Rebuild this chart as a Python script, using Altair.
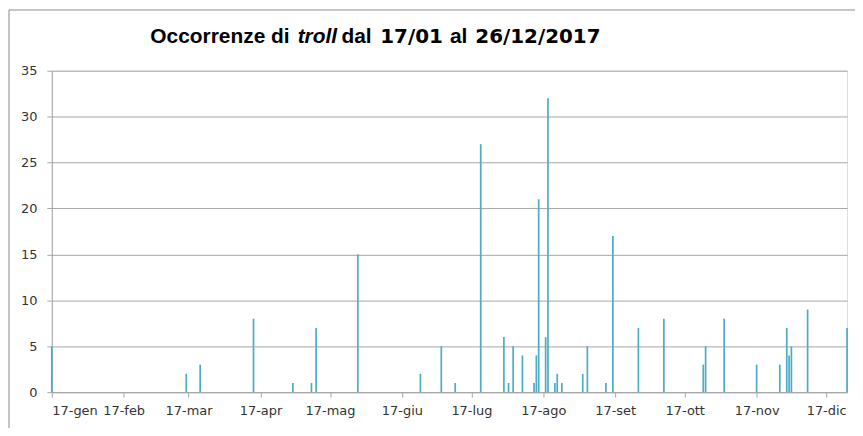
import altair as alt
import pandas as pd

# --- data ---
dates = ["2017-01-17", "2017-03-16", "2017-03-22", "2017-04-14", "2017-05-01",
         "2017-05-09", "2017-05-11", "2017-05-29", "2017-06-25", "2017-07-04",
         "2017-07-10", "2017-07-21", "2017-07-31", "2017-08-02", "2017-08-04",
         "2017-08-08", "2017-08-13", "2017-08-14", "2017-08-15", "2017-08-18",
         "2017-08-19", "2017-08-22", "2017-08-23", "2017-08-25", "2017-09-03",
         "2017-09-05", "2017-09-13", "2017-09-16", "2017-09-27", "2017-10-08",
         "2017-10-25", "2017-10-26", "2017-11-03", "2017-11-17", "2017-11-27",
         "2017-11-30", "2017-12-01", "2017-12-02", "2017-12-09", "2017-12-26"]
counts = [5, 2, 3, 8, 1, 1, 7, 15, 2, 5,
          1, 27, 6, 1, 5, 4, 1, 4, 21, 6,
          32, 1, 2, 1, 2, 5, 1, 17, 7, 8,
          3, 5, 8, 3, 3, 7, 4, 5, 9, 7]
month_names = ["gen", "feb", "mar", "apr", "mag", "giu",
               "lug", "ago", "set", "ott", "nov", "dic"]
y_ticks = [0, 5, 10, 15, 20, 25, 30, 35]
# title pieces: (text, italic, digits-font)
title_parts = [("Occorrenze di", False, False), ("troll", True, False),
               ("dal", False, False), ("17/01", False, True),
               ("al", False, False), ("26/12/2017", False, True)]
title_x = [99, 247, 291, 330, 400, 425.5]

df = pd.DataFrame({"data": dates, "occorrenze": counts})
one = pd.DataFrame({"k": [0]})

W, H = 799, 323
GRID = "#a6a6a6"
BAR = "#4bacc6"
FONT = "DejaVu Sans"
TFONT = "Liberation Sans"

month_arr = "[" + ",".join("'%s'" % m for m in month_names) + "]"
x_values = [alt.DateTime(year=2017, month=m, date=17, utc=True) for m in range(1, 13)]

x_enc = alt.X(
    "data:T",
    scale=alt.Scale(type="utc", padding=0,
                    domain=[alt.DateTime(year=2017, month=1, date=17, utc=True),
                            alt.DateTime(year=2017, month=12, date=26, utc=True)]),
    axis=alt.Axis(values=x_values, labelExpr="'17-' + " + month_arr + "[utcmonth(datum.value)]",
                  grid=False, tickSize=5, labelPadding=7, domainColor=GRID, tickColor=GRID,
                  labelFont=FONT, labelFontSize=13, labelColor="#333333", title=None,
                  labelAngle=0),
)
y_enc = alt.Y(
    "occorrenze:Q",
    scale=alt.Scale(domain=[0, 35], nice=False),
    axis=alt.Axis(values=y_ticks, grid=True, gridColor=GRID, gridWidth=1,
                  domainColor=GRID, tickColor=GRID, tickSize=5, labelPadding=10,
                  labelFont=FONT, labelFontSize=13, labelColor="#333333", title=None),
)

bars = alt.Chart(df).mark_bar(size=1.7, color=BAR).encode(x=x_enc, y=y_enc)

frame = alt.Chart(one).mark_rect(fill=None, stroke="#8c8c8c", strokeWidth=1).encode(
    x=alt.value(-43), x2=alt.value(W + 40), y=alt.value(-61), y2=alt.value(H + 60))

layers = [frame, bars]
for (txt, italic, digits), tx in zip(title_parts, title_x):
    kw = dict(text=txt, align="left", baseline="alphabetic", fontWeight="bold",
              color="#000000",
              font=("DejaVu Sans" if digits else TFONT),
              fontSize=(20 if digits else 21))
    if italic:
        kw["fontStyle"] = "italic"
    layers.append(alt.Chart(one).mark_text(**kw).encode(x=alt.value(tx), y=alt.value(-28)))

chart = alt.layer(*layers).properties(
    width=W, height=H,
    autosize=alt.AutoSizeParams(type="none"),
    padding={"left": 44, "top": 62, "right": 8, "bottom": 35},
).configure_view(stroke=None).configure(background="white")

chart.save("out.html", embed_options={"renderer": "svg", "actions": False})
